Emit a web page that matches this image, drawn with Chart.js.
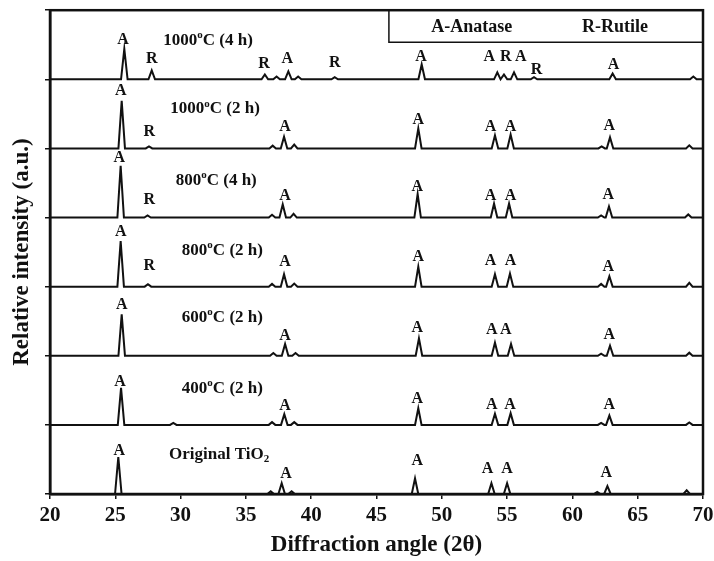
<!DOCTYPE html>
<html>
<head>
<meta charset="utf-8">
<script src="https://cdn.jsdelivr.net/npm/chart.js@4.4.0/dist/chart.umd.min.js"></script>
<style>
  html, body { margin: 0; padding: 0; background: #fff; }
</style>
</head>
<body>
<canvas id="xrdChart" width="714" height="561"></canvas>
<script>
// samples listed bottom -> top, each one stacked one unit above the previous
const sampleTemps = ['', '400', '600', '800', '800', '1000', '1000'];
const sampleTimes = ['', '2 h', '2 h', '2 h', '4 h', '2 h', '4 h'];

// peak positions (2theta) and relative heights
const origPos = [25.23, 36.9, 37.74, 38.5, 47.95, 53.8, 55.0, 61.9, 62.68, 68.75];
const origInt = [0.535, 0.04, 0.155, 0.04, 0.225, 0.155, 0.155, 0.03, 0.115, 0.055];

const s400Pos = [25.44, 29.44, 37.0, 37.94, 38.7, 48.2, 54.07, 55.27, 62.2, 62.83, 68.95];
const s400Int = [0.535, 0.03, 0.04, 0.155, 0.04, 0.24, 0.16, 0.17, 0.03, 0.135, 0.035];

const s600Pos = [25.49, 37.1, 38.0, 38.8, 48.25, 54.07, 55.3, 62.2, 62.88, 68.95];
const s600Int = [0.60, 0.04, 0.17, 0.04, 0.25, 0.19, 0.17, 0.03, 0.145, 0.045];

const s800aPos = [25.41, 27.5, 37.0, 37.92, 38.7, 48.2, 54.07, 55.22, 62.2, 62.83, 68.95];
const s800aInt = [0.66, 0.035, 0.04, 0.18, 0.045, 0.29, 0.18, 0.19, 0.04, 0.15, 0.055];

const s800bPos = [25.41, 27.47, 37.0, 37.82, 38.65, 48.15, 54.0, 55.15, 62.2, 62.8, 68.87];
const s800bInt = [0.75, 0.03, 0.04, 0.19, 0.055, 0.34, 0.20, 0.20, 0.03, 0.16, 0.045];

const s1000aPos = [25.49, 27.58, 37.05, 37.92, 38.7, 48.2, 54.07, 55.27, 62.24, 62.88, 68.95];
const s1000aInt = [0.69, 0.03, 0.04, 0.17, 0.055, 0.29, 0.19, 0.20, 0.03, 0.16, 0.045];

const s1000bPos = [25.69, 27.79, 36.45, 37.35, 38.25, 39.0, 41.8, 48.46, 54.25, 54.76, 55.53, 57.06, 63.08, 69.26];
const s1000bInt = [0.44, 0.13, 0.07, 0.04, 0.115, 0.04, 0.03, 0.215, 0.10, 0.07, 0.10, 0.03, 0.085, 0.04];

// phase marks: [letter, 2theta, height above that trace's baseline]
const marksOrig = [['A', 25.3, 0.63], ['A', 38.07, 0.29], ['A', 48.12, 0.48], ['A', 53.5, 0.37], ['A', 55.0, 0.37], ['A', 62.6, 0.31]];
const marks400 = [['A', 25.36, 0.62], ['A', 38.0, 0.27], ['A', 48.12, 0.37], ['A', 53.82, 0.29], ['A', 55.22, 0.29], ['A', 62.83, 0.29]];
const marks600 = [['A', 25.49, 0.73], ['A', 38.0, 0.29], ['A', 48.12, 0.40], ['A', 53.82, 0.37], ['A', 54.9, 0.37], ['A', 62.83, 0.30]];
const marks800a = [['A', 25.41, 0.79], ['R', 27.6, 0.30], ['A', 38.0, 0.36], ['A', 48.2, 0.43], ['A', 53.74, 0.38], ['A', 55.27, 0.38], ['A', 62.75, 0.28]];
const marks800b = [['A', 25.3, 0.86], ['R', 27.6, 0.25], ['A', 38.0, 0.32], ['A', 48.12, 0.44], ['A', 53.74, 0.32], ['A', 55.27, 0.32], ['A', 62.75, 0.33]];
const marks1000a = [['A', 25.41, 0.83], ['R', 27.6, 0.24], ['A', 38.0, 0.31], ['A', 48.2, 0.42], ['A', 53.74, 0.31], ['A', 55.27, 0.31], ['A', 62.83, 0.33]];
const marks1000b = [['A', 25.6, 0.57], ['R', 27.8, 0.30], ['R', 36.39, 0.23], ['A', 38.17, 0.30], ['R', 41.8, 0.24], ['A', 48.4, 0.32],
                    ['A', 53.64, 0.32], ['R', 54.9, 0.32], ['A', 56.04, 0.32], ['R', 57.26, 0.13], ['A', 63.14, 0.215]];

// where each sample name sits: [2theta, height above baseline]
const namePos = [[32.95, 0.575], [33.2, 0.53], [33.2, 0.555], [33.2, 0.525], [32.73, 0.535], [32.64, 0.57], [32.1, 0.56]];

const xTicks = [20, 25, 30, 35, 40, 45, 50, 55, 60, 65, 70];

const INK = '#111';
const SERIF = '"Liberation Serif", "Times New Roman", serif';
const HALF = 0.25; // half width of a drawn peak, in degrees

const peakPos = [origPos, s400Pos, s600Pos, s800aPos, s800bPos, s1000aPos, s1000bPos];
const peakInt = [origInt, s400Int, s600Int, s800aInt, s800bInt, s1000aInt, s1000bInt];
const phaseMarks = [marksOrig, marks400, marks600, marks800a, marks800b, marks1000a, marks1000b];

function buildTrace(pos, inten, offset) {
  var pts = [{x: 20, y: offset}];
  for (let i = 0; i < pos.length; i++) {
    pts.push({x: pos[i] - HALF, y: offset});
    pts.push({x: pos[i], y: offset + inten[i]});
    pts.push({x: pos[i] + HALF, y: offset});
  }
  pts.push({x: 70, y: offset});
  return pts;
}

var datasets = [];
for (let i = 0; i < peakPos.length; i++) {
  datasets.push({
    label: 'sample' + i,
    data: buildTrace(peakPos[i], peakInt[i], i),
    borderColor: INK,
    borderWidth: 2,
    pointRadius: 0,
    tension: 0,
    fill: false
  });
}

function nameParts(i) {
  if (sampleTemps[i] === '') return [['Original TiO', 'n'], ['2', 'sub']];
  return [[sampleTemps[i], 'n'], ['o', 'sup'], ['C (' + sampleTimes[i] + ')', 'n']];
}

const labelPlugin = {
  id: 'xrdLabels',
  afterDatasetsDraw(chart) {
    const ctx = chart.ctx;
    const a = chart.chartArea;
    const x = chart.scales.x, y = chart.scales.y;
    ctx.save();
    ctx.fillStyle = INK;
    ctx.strokeStyle = INK;
    ctx.textBaseline = 'middle';

    // A / R marks
    ctx.textAlign = 'center';
    ctx.font = 'bold 16px ' + SERIF;
    phaseMarks.forEach(function(marks, i) {
      marks.forEach(function(m) {
        ctx.fillText(m[0], x.getPixelForValue(m[1]), y.getPixelForValue(i + m[2]));
      });
    });

    // sample names
    ctx.textAlign = 'left';
    const big = 'bold 17px ' + SERIF, small = 'bold 11px ' + SERIF;
    for (let i = 0; i < namePos.length; i++) {
      const parts = nameParts(i);
      let w = 0;
      parts.forEach(function(p) { ctx.font = p[1] === 'n' ? big : small; w += ctx.measureText(p[0]).width; });
      let px = x.getPixelForValue(namePos[i][0]) - w / 2;
      const py = y.getPixelForValue(i + namePos[i][1]);
      parts.forEach(function(p) {
        ctx.font = p[1] === 'n' ? big : small;
        const dy = p[1] === 'sup' ? -5 : (p[1] === 'sub' ? 5 : 0);
        ctx.fillText(p[0], px, py + dy);
        px += ctx.measureText(p[0]).width;
      });
    }

    // frame
    ctx.lineWidth = 2.5;
    ctx.strokeRect(a.left, a.top, a.right - a.left, a.bottom - a.top);

    // legend box in the top right corner
    const boxL = x.getPixelForValue(45.95), boxB = a.top + 32;
    ctx.lineWidth = 1.5;
    ctx.beginPath();
    ctx.moveTo(boxL, a.top);
    ctx.lineTo(boxL, boxB);
    ctx.lineTo(a.right, boxB);
    ctx.stroke();
    ctx.textAlign = 'center';
    ctx.font = 'bold 18px ' + SERIF;
    ctx.fillText('A-Anatase', x.getPixelForValue(52.3), a.top + 17);
    ctx.fillText('R-Rutile', x.getPixelForValue(63.26), a.top + 17);
    ctx.restore();
  }
};

var options = {
  responsive: false,
  animation: false,
  layout: { padding: { top: 7, right: 11, bottom: 0, left: 0 } },
  plugins: { legend: { display: false }, tooltip: { enabled: false } },
  scales: {
    x: {
      type: 'linear',
      min: 20,
      max: 70,
      afterBuildTicks: function(scale) { scale.ticks = xTicks.map(function(v) { return {value: v}; }); },
      afterFit: function(scale) { scale.height = 67; scale.paddingLeft = 0; scale.paddingRight = 0; },
      ticks: { color: INK, padding: 4, font: { family: SERIF, size: 21, weight: 'bold' }, maxRotation: 0 },
      grid: { drawOnChartArea: false, tickLength: 5, color: INK, lineWidth: 1.5 },
      border: { color: INK, width: 2.5 },
      title: { display: true, text: 'Diffraction angle (2θ)', color: INK,
               font: { family: SERIF, size: 23, weight: 'bold' }, padding: { top: 0, bottom: 2 } }
    },
    y: {
      min: 0,
      max: 7,
      afterFit: function(scale) { scale.width = 50; },
      ticks: { stepSize: 1, callback: function() { return ''; } },
      grid: { drawOnChartArea: false, tickLength: 5, color: INK, lineWidth: 1.5 },
      border: { color: INK, width: 2.5 },
      title: { display: true, text: 'Relative intensity (a.u.)', color: INK,
               font: { family: SERIF, size: 23, weight: 'bold' }, padding: { top: 8, bottom: 0 } }
    }
  }
};

var ctx = document.getElementById('xrdChart').getContext('2d');
var xrdChart = new Chart(ctx, {
  type: 'line',
  data: { datasets: datasets },
  options: options,
  plugins: [labelPlugin]
});
</script>
</body>
</html>
